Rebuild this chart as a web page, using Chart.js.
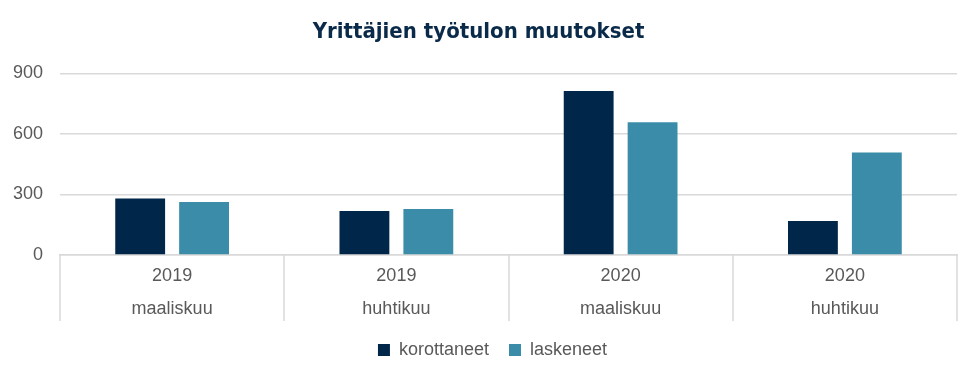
<!DOCTYPE html>
<html>
<head>
<meta charset="utf-8">
<script src="https://cdn.jsdelivr.net/npm/chart.js@4"></script>
<style>
  body { margin: 0; background: #fff; }
  #wrap { width: 980px; height: 377px; }
</style>
</head>
<body>
<div id="wrap"><canvas id="chart-0" width="980" height="377"></canvas></div>
<script>
const years = ['2019', '2019', '2020', '2020']
const months = ['maaliskuu', 'huhtikuu', 'maaliskuu', 'huhtikuu']
const korottaneet = [280, 218, 813, 168]
const laskeneet = [263, 228, 658, 508]
const yTicks = [0, 300, 600, 900]

const labels = years.map((y, i) => [y, months[i]])
const gridColor = '#d9d9d9'
const textColor = '#595959'

// vertical dividers between the categories, below the axis line
const dividers = {
  id: 'dividers',
  afterLayout(chart) {
    // legend sits a bit right of centre in the original
    chart.legend.left += 14
    chart.legend.right += 14
  },
  afterDraw(chart) {
    const x = chart.scales.x
    const ctx = chart.ctx
    ctx.save()
    ctx.strokeStyle = gridColor
    ctx.lineWidth = 1.5
    for (let i = 0; i <= labels.length; i++) {
      const px = Math.round(x.getPixelForValue(i - 0.5))
      ctx.beginPath()
      ctx.moveTo(px, x.top)
      ctx.lineTo(px, x.bottom)
      ctx.stroke()
    }
    ctx.restore()
  }
}

const config = {
  type: 'bar',
  data: {
    labels,
    datasets: [
      {
        label: 'korottaneet',
        data: korottaneet,
        backgroundColor: '#00274a'
      },
      {
        label: 'laskeneet',
        data: laskeneet,
        backgroundColor: '#3a8ca9'
      }
    ]
  },
  options: {
    responsive: false,
    animation: false,
    layout: { padding: { left: 0, right: 23, top: 0, bottom: 8 } },
    datasets: {
      bar: { categoryPercentage: 0.57, barPercentage: 0.78 }
    },
    scales: {
      x: {
        afterFit: s => { s.height = 66 },
        grid: { display: false, drawTicks: false },
        border: { color: gridColor, width: 1.5 },
        ticks: {
          padding: 5,
          color: textColor,
          font: { family: 'Liberation Sans', size: 18, lineHeight: 1.83 },
          maxRotation: 0
        }
      },
      y: {
        min: 0,
        max: 900,
        afterFit: s => { s.width = 60 },
        afterBuildTicks: s => { s.ticks = yTicks.map(v => ({ value: v })) },
        grid: { color: gridColor, lineWidth: 1.5, drawTicks: false },
        border: { display: false },
        ticks: {
          padding: 17,
          color: textColor,
          font: { family: 'Liberation Sans', size: 18 }
        }
      }
    },
    plugins: {
      title: {
        display: true,
        text: 'Yrittäjien työtulon muutokset',
        color: '#0a2a4a',
        font: { family: 'DejaVu Sans Condensed', size: 22, weight: 'bold' },
        padding: { top: 19, bottom: 28 }
      },
      legend: {
        position: 'bottom',
        labels: {
          boxWidth: 12,
          boxHeight: 12,
          padding: 20,
          color: textColor,
          font: { family: 'Liberation Sans', size: 18 }
        }
      },
      tooltip: { enabled: false }
    }
  },
  plugins: [dividers]
}

new Chart(document.getElementById('chart-0'), config)
</script>
</body>
</html>
